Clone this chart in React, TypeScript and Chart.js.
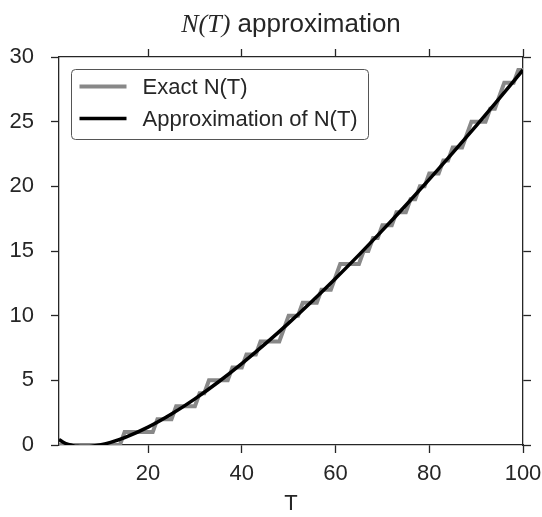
import React, { useEffect, useRef } from 'react';
import { Chart, registerables } from 'chart.js';

Chart.register(...registerables);

// Exact N(T): corner points of the step count of zeta zeros (sampled at integer T)
const exactT = [1, 14, 15, 21, 22, 25, 26, 30, 31, 32, 33, 37, 38, 40, 41, 43, 44, 48, 49, 50, 52, 53, 56, 57, 59, 60, 61, 65, 66, 67, 68, 69, 70, 72, 73, 75, 76, 77, 78, 79, 80, 82, 83, 84, 85, 87, 88, 89, 92, 93, 94, 95, 96, 98, 99, 100];
const exactN = [0, 0, 1, 1, 2, 2, 3, 3, 4, 4, 5, 5, 6, 6, 7, 7, 8, 8, 9, 10, 10, 11, 11, 12, 12, 13, 14, 14, 15, 15, 16, 16, 17, 17, 18, 18, 19, 19, 20, 20, 21, 21, 22, 22, 23, 23, 24, 25, 25, 26, 26, 27, 28, 28, 29, 29];

// Approximation of N(T)
const approxT = [1, 2, 3, 4, 5, 6, 7, 8, 10, 12, 15, 20, 25, 30, 35, 40, 45, 50, 55, 60, 65, 70, 75, 80, 85, 90, 95, 100];
const approxN = [0.423, 0.192, 0.045, -0.049, -0.103, -0.124, -0.119, -0.091, 0.023, 0.201, 0.565, 1.378, 2.391, 3.565, 4.872, 6.293, 7.814, 9.423, 11.112, 12.873, 14.701, 16.591, 18.537, 20.536, 22.585, 24.680, 26.821, 29.002];

const xTicks = [20, 40, 60, 80, 100];
const yTicks = [0, 5, 10, 15, 20, 25, 30];

const titleMath = 'N(T)';
const titleRest = ' approximation';
const xTitle = 'T';
const legendLabels = ['Exact N(T)', 'Approximation of N(T)'];

const SANS = '"Liberation Sans", Arial, Helvetica, sans-serif';
const SERIF = '"Liberation Serif", "Times New Roman", serif';
const AXIS = '#262626';
const GRAY = '#888888';
const BLACK = '#000000';

function zeroPad(s: any) {
  s.paddingLeft = 0;
  s.paddingRight = 0;
  s.paddingTop = 0;
  s.paddingBottom = 0;
}

export default function App() {
  const ref = useRef<HTMLCanvasElement | null>(null);

  useEffect(() => {
    if (!ref.current) return;

    const titlePlugin = {
      id: 'mixedTitle',
      afterDraw(chart: any) {
        const ctx = chart.ctx;
        const ca = chart.chartArea;
        ctx.save();
        ctx.fillStyle = AXIS;
        ctx.textBaseline = 'alphabetic';
        const fMath = 'italic 26px ' + SERIF;
        const fText = '26px ' + SANS;
        ctx.font = fMath;
        const w1 = ctx.measureText(titleMath).width;
        ctx.font = fText;
        const w2 = ctx.measureText(titleRest).width;
        const cx = (ca.left + ca.right) / 2;
        const x = cx - (w1 + w2) / 2;
        ctx.textAlign = 'left';
        ctx.font = fMath;
        ctx.fillText(titleMath, x, 32);
        ctx.font = fText;
        ctx.fillText(titleRest, x + w1, 32);
        ctx.restore();
      },
    };

    const legendPlugin = {
      id: 'boxLegend',
      afterDraw(chart: any) {
        const ctx = chart.ctx;
        const ca = chart.chartArea;
        const bx = ca.left + 12.5;
        const by = ca.top + 12.5;
        const bw = 297;
        const bh = 70;
        ctx.save();
        ctx.beginPath();
        if ((ctx as any).roundRect) {
          (ctx as any).roundRect(bx, by, bw, bh, 4);
        } else {
          ctx.rect(bx, by, bw, bh);
        }
        ctx.fillStyle = '#ffffff';
        ctx.fill();
        ctx.lineWidth = 1;
        ctx.strokeStyle = '#555555';
        ctx.stroke();
        const colors = [GRAY, BLACK];
        const widths = [4, 3.5];
        ctx.font = '22px ' + SANS;
        ctx.textBaseline = 'middle';
        ctx.textAlign = 'left';
        for (let i = 0; i < legendLabels.length; i++) {
          const ly = by + 17 + i * 32;
          ctx.beginPath();
          ctx.strokeStyle = colors[i];
          ctx.lineWidth = widths[i];
          ctx.moveTo(bx + 8, ly);
          ctx.lineTo(bx + 55, ly);
          ctx.stroke();
          ctx.fillStyle = AXIS;
          ctx.fillText(legendLabels[i], bx + 71, ly + 1);
        }
        ctx.restore();
      },
    };

    const grid = {
      drawOnChartArea: false,
      drawTicks: true,
      tickLength: 8,
      tickColor: AXIS,
      tickWidth: 1.3,
    };
    const border = { display: true, color: AXIS, width: 1.3 };

    const chart = new Chart(ref.current, {
      type: 'line',
      data: {
        datasets: [
          {
            label: legendLabels[1],
            data: approxT.map((t, i) => ({ x: t, y: approxN[i] })),
            borderColor: BLACK,
            borderWidth: 3.5,
            pointRadius: 0,
            cubicInterpolationMode: 'monotone',
            fill: false,
            xAxisID: 'x',
            yAxisID: 'y',
            order: 1,
          },
          {
            label: legendLabels[0],
            data: exactT.map((t, i) => ({ x: t, y: exactN[i] })),
            borderColor: GRAY,
            borderWidth: 4,
            pointRadius: 0,
            tension: 0,
            fill: false,
            xAxisID: 'x',
            yAxisID: 'y',
            order: 2,
          },
        ],
      },
      options: {
        responsive: false,
        animation: false,
        events: [],
        layout: { padding: { top: 49, right: 11, left: 0, bottom: 0 } },
        plugins: {
          legend: { display: false },
          title: { display: false },
          tooltip: { enabled: false },
        },
        scales: {
          x: {
            type: 'linear',
            position: 'bottom',
            min: 1,
            max: 100,
            afterBuildTicks: (s: any) => {
              s.ticks = xTicks.map((v) => ({ value: v }));
            },
            afterFit: (s: any) => {
              s.height = 72;
              zeroPad(s);
            },
            grid,
            border,
            ticks: {
              font: { family: SANS, size: 22 },
              color: AXIS,
              padding: 8,
              maxRotation: 0,
            },
            title: {
              display: true,
              text: xTitle,
              font: { family: SANS, size: 22 },
              color: AXIS,
              padding: { top: 0, bottom: 0 },
            },
          },
          y: {
            type: 'linear',
            position: 'left',
            min: 0,
            max: 30,
            afterBuildTicks: (s: any) => {
              s.ticks = yTicks.map((v) => ({ value: v }));
            },
            afterFit: (s: any) => {
              s.width = 59;
              zeroPad(s);
            },
            grid,
            border,
            ticks: {
              font: { family: SANS, size: 22 },
              color: AXIS,
              padding: 17,
            },
          },
          x2: {
            type: 'linear',
            position: 'top',
            min: 1,
            max: 100,
            afterBuildTicks: (s: any) => {
              s.ticks = xTicks.map((v) => ({ value: v }));
            },
            afterFit: (s: any) => {
              s.height = 8;
              zeroPad(s);
            },
            grid,
            border,
            ticks: { display: false },
          },
          y2: {
            type: 'linear',
            position: 'right',
            min: 0,
            max: 30,
            afterBuildTicks: (s: any) => {
              s.ticks = yTicks.map((v) => ({ value: v }));
            },
            afterFit: (s: any) => {
              s.width = 8;
              zeroPad(s);
            },
            grid,
            border,
            ticks: { display: false },
          },
        },
      } as any,
      plugins: [titlePlugin, legendPlugin],
    });

    return () => {
      chart.destroy();
    };
  }, []);

  return (
    <div style={{ position: 'fixed', left: 0, top: 0, width: 542, height: 517, background: '#ffffff' }}>
      <canvas ref={ref} width={542} height={517} style={{ display: 'block', width: 542, height: 517 }} />
    </div>
  );
}
